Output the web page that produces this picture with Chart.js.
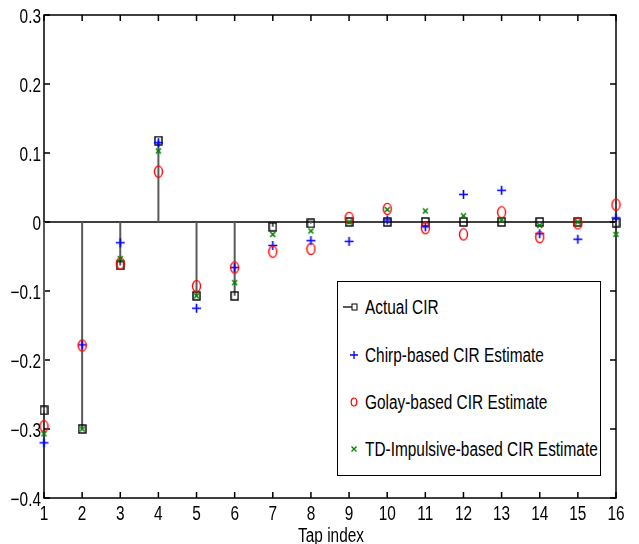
<!DOCTYPE html>
<html>
<head>
<meta charset="utf-8">
<script src="https://cdn.jsdelivr.net/npm/chart.js@4.4.1/dist/chart.umd.min.js"></script>
<style>
  html, body { margin: 0; padding: 0; background: #fff; }
  #wrap { position: relative; width: 639px; height: 544px; overflow: hidden; }
  #c { position: absolute; left: 0; top: 0; }
  #legend {
    position: absolute; left: 337px; top: 281px; width: 264px; height: 195px;
    box-sizing: border-box; border: 1.5px solid #000; background: #fff;
    font-family: "Liberation Sans", Arial, sans-serif;
    font-size: 20px; color: #000;
  }
  #legend .txt {
    position: absolute; left: 27px; height: 24px; line-height: 24px; white-space: nowrap;
    transform: scaleX(0.77); transform-origin: 0 50%;
  }
  #legend svg { position: absolute; overflow: visible; }
</style>
</head>
<body>
<div id="wrap">
  <canvas id="c" width="639" height="544"></canvas>
  <div id="legend"></div>
</div>
<script>
// CIR taps: actual channel impulse response vs. three estimates
const taps = [1, 2, 3, 4, 5, 6, 7, 8, 9, 10, 11, 12, 13, 14, 15, 16]
const yTicks = [-0.4, -0.3, -0.2, -0.1, 0, 0.1, 0.2, 0.3]

const actualCIR = [-0.273, -0.300, -0.063, 0.118, -0.107, -0.107, -0.007, -0.002, 0.000, 0.000, 0.000, 0.000, 0.000, 0.000, 0.000, -0.001]
const chirpEst  = [-0.320, -0.178, -0.030, 0.115, -0.125, -0.066, -0.034, -0.027, -0.028, 0.003, -0.007, 0.040, 0.046, -0.017, -0.025, 0.006]
const golayEst  = [-0.296, -0.179, -0.060, 0.073, -0.093, -0.066, -0.043, -0.039, 0.006, 0.019, -0.009, -0.018, 0.014, -0.022, -0.002, 0.025]
const tdEst     = [-0.307, -0.300, -0.053, 0.103, -0.107, -0.088, -0.018, -0.013, 0.000, 0.018, 0.016, 0.009, 0.003, -0.005, 0.000, -0.018]

const seriesNames = [
  "Actual CIR",
  "Chirp-based CIR Estimate",
  "Golay-based CIR Estimate",
  "TD-Impulsive-based CIR Estimate",
]
const xTitle = "Tap index"

const FONT = "20px 'Liberation Sans', Arial, sans-serif"
const SX = 0.77 // the reference font is a tall, narrow Helvetica

// small bitmap markers, MATLAB-ish (squares/circles slightly taller than wide)
const marker = (w, h, draw) => {
  const c = document.createElement("canvas")
  c.width = w
  c.height = h
  draw(c.getContext("2d"), w, h)
  return c
}
const squareMark = marker(9, 10, (g, w, h) => {
  g.strokeStyle = "#000"; g.lineWidth = 1.4
  g.strokeRect(1, 1, w - 2, h - 2)
})
const plusMark = marker(11, 11, (g) => {
  g.strokeStyle = "#0000ff"; g.lineWidth = 1.6
  g.beginPath(); g.moveTo(1, 5.5); g.lineTo(10, 5.5); g.moveTo(5.5, 1); g.lineTo(5.5, 10); g.stroke()
})
const circleMark = marker(11, 14, (g) => {
  g.strokeStyle = "#ff0000"; g.lineWidth = 1.4
  g.beginPath(); g.ellipse(5.5, 7, 4, 5.6, 0, 0, Math.PI * 2); g.stroke()
})
const crossMark = marker(9, 9, (g) => {
  g.strokeStyle = "#008000"; g.lineWidth = 1.6
  g.beginPath(); g.moveTo(2, 2); g.lineTo(7, 7); g.moveTo(7, 2); g.lineTo(2, 7); g.stroke()
})

const pts = (arr) => taps.map((t, i) => ({ x: t, y: arr[i] }))

// stems: 0 -> value, broken by a null between taps
const stemPts = []
taps.forEach((t, i) => {
  stemPts.push({ x: t, y: 0 }, { x: t, y: actualCIR[i] }, { x: t, y: null })
})
const baseline = [{ x: taps[0], y: 0 }, { x: taps[taps.length - 1], y: 0 }]

const scatterSet = (label, data, style, order) => ({
  label, data, order,
  showLine: false,
  pointStyle: style,
  pointRadius: 5,
  clip: false,
})

const yLabel = (v) => (Math.abs(v) < 1e-9 ? "0" : (v < 0 ? "\u2212" : "") + Math.abs(v).toFixed(1))

const narrowText = (ctx, text, x, y, align) => {
  ctx.save()
  ctx.translate(x, y)
  ctx.scale(SX, 1)
  ctx.textAlign = align
  ctx.textBaseline = "alphabetic"
  ctx.fillText(text, 0, 0)
  ctx.restore()
}

// box with inward tick marks on all four sides + condensed labels
const boxTicks = {
  id: "boxTicks",
  beforeDatasetsDraw(chart) {
    const { ctx, chartArea: a, scales } = chart
    ctx.save()
    ctx.strokeStyle = "#000"
    ctx.lineWidth = 1.5
    ctx.strokeRect(a.left, a.top, a.right - a.left, a.bottom - a.top)
    ctx.beginPath()
    scales.x.ticks.forEach((t) => {
      const px = scales.x.getPixelForValue(t.value)
      ctx.moveTo(px, a.bottom); ctx.lineTo(px, a.bottom - 6)
      ctx.moveTo(px, a.top); ctx.lineTo(px, a.top + 6)
    })
    scales.y.ticks.forEach((t) => {
      const py = scales.y.getPixelForValue(t.value)
      ctx.moveTo(a.left, py); ctx.lineTo(a.left + 6, py)
      ctx.moveTo(a.right, py); ctx.lineTo(a.right - 6, py)
    })
    ctx.stroke()
    ctx.restore()
  },
  afterDraw(chart) {
    const { ctx, chartArea: a, scales } = chart
    ctx.save()
    ctx.fillStyle = "#000"
    ctx.font = FONT
    scales.x.ticks.forEach((t) => {
      narrowText(ctx, String(t.value), scales.x.getPixelForValue(t.value), a.bottom + 22, "center")
    })
    scales.y.ticks.forEach((t) => {
      narrowText(ctx, yLabel(t.value), a.left - 3, scales.y.getPixelForValue(t.value) + 8, "right")
    })
    narrowText(ctx, xTitle, (a.left + a.right) / 2 + 1, 542, "center")
    ctx.restore()
  },
}

new Chart(document.getElementById("c").getContext("2d"), {
  type: "scatter",
  data: {
    datasets: [
      { label: "baseline", data: baseline, showLine: true, borderColor: "#000", borderWidth: 1.5, pointRadius: 0, order: 6, clip: false },
      { label: "stems", data: stemPts, showLine: true, spanGaps: false, borderColor: "#5a5a5a", borderWidth: 2, pointRadius: 0, order: 5, clip: false },
      scatterSet(seriesNames[0], pts(actualCIR), squareMark, 4),
      scatterSet(seriesNames[1], pts(chirpEst), plusMark, 3),
      scatterSet(seriesNames[2], pts(golayEst), circleMark, 2),
      scatterSet(seriesNames[3], pts(tdEst), crossMark, 1),
    ],
  },
  options: {
    responsive: false,
    animation: false,
    events: [],
    devicePixelRatio: 1,
    layout: { padding: { top: 15, right: 23, left: 0, bottom: 0 } },
    plugins: { legend: { display: false }, tooltip: { enabled: false } },
    scales: {
      x: {
        type: "linear", min: 1, max: 16,
        afterBuildTicks: (s) => { s.ticks = taps.map((v) => ({ value: v })) },
        afterFit: (s) => { s.height = 46 },
        grid: { display: false, drawTicks: false },
        border: { display: false },
        ticks: { display: false },
      },
      y: {
        type: "linear", min: -0.4, max: 0.3,
        afterBuildTicks: (s) => { s.ticks = yTicks.map((v) => ({ value: v })) },
        afterFit: (s) => { s.width = 44 },
        grid: { display: false, drawTicks: false },
        border: { display: false },
        ticks: { display: false },
      },
    },
  },
  plugins: [boxTicks],
})

// legend (HTML so the text stays real text)
const legend = document.getElementById("legend")
const rowY = [25, 73, 120, 167]
const symbols = [
  '<line x1="5" y1="0" x2="17" y2="0" stroke="#000" stroke-width="1.3"/><rect x="14" y="-3" width="5" height="6" fill="#fff" stroke="#000" stroke-width="1"/>',
  '<path d="M16 -4 V4 M12 0 H20" stroke="#0000ff" stroke-width="1.3"/>',
  '<ellipse cx="16" cy="0" rx="2.8" ry="4" fill="none" stroke="#ff0000" stroke-width="1.2"/>',
  '<path d="M13.5 -2.5 L18.5 2.5 M18.5 -2.5 L13.5 2.5" stroke="#008000" stroke-width="1.3"/>',
]
seriesNames.forEach((name, i) => {
  const svg = document.createElementNS("http://www.w3.org/2000/svg", "svg")
  svg.setAttribute("width", "24")
  svg.setAttribute("height", "2")
  svg.style.left = "0px"
  svg.style.top = rowY[i] + "px"
  svg.innerHTML = symbols[i]
  legend.appendChild(svg)
  const t = document.createElement("div")
  t.className = "txt"
  t.style.top = (rowY[i] - 12) + "px"
  t.textContent = name
  legend.appendChild(t)
})
</script>
</body>
</html>
